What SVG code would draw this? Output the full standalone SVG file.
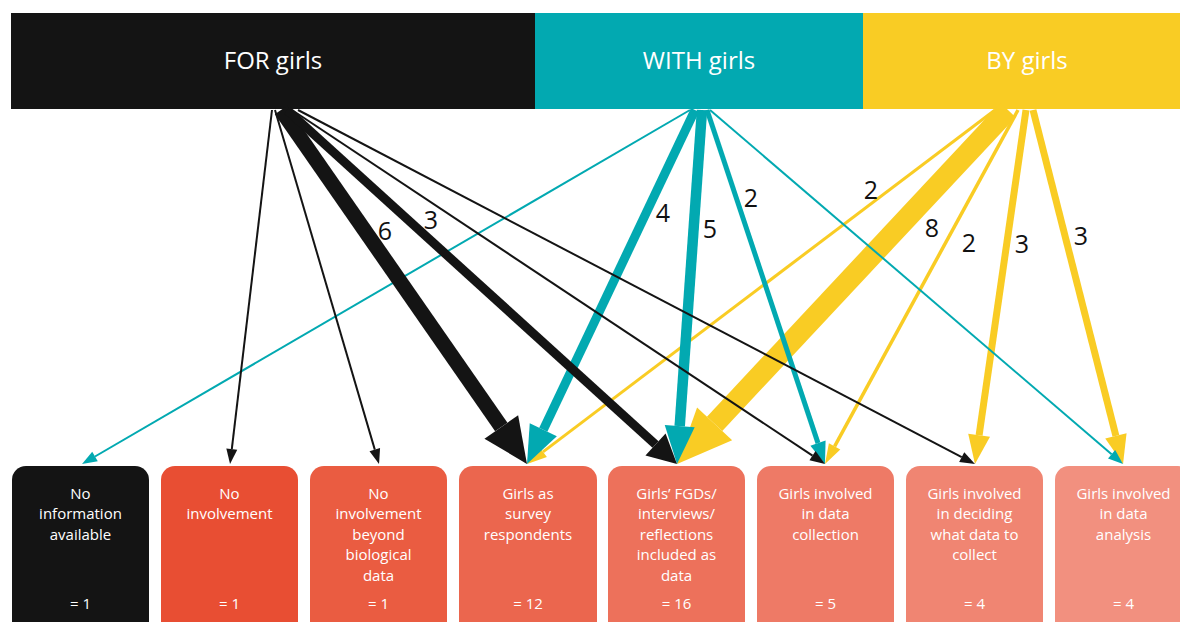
<svg xmlns="http://www.w3.org/2000/svg" width="1180" height="622" viewBox="0 0 1180 622">
<style>
.hd{font-family:"Open Sans","Liberation Sans",sans-serif;font-size:24px;fill:#fff;text-anchor:middle}
.bx{font-family:"Open Sans","Liberation Sans",sans-serif;font-size:15px;fill:#fff;text-anchor:middle}
.lb{font-family:"Open Sans","Liberation Sans",sans-serif;font-size:25px;fill:#111;text-anchor:middle}
.k{stroke:#141414;fill:none}
.t{stroke:#02A9B1;fill:none}
.y{stroke:#F9CC24;fill:none}
</style>
<defs>
<marker id="bkS" markerUnits="userSpaceOnUse" markerWidth="15" markerHeight="11" refX="0" refY="5.5" orient="auto" overflow="visible"><path d="M0,0 L15,5.5 L0,11 z" fill="#141414"/></marker>
<marker id="bkM" markerUnits="userSpaceOnUse" markerWidth="29" markerHeight="30" refX="0" refY="15" orient="auto" overflow="visible"><path d="M0,0 L29,15 L0,30 z" fill="#141414"/></marker>
<marker id="bkL" markerUnits="userSpaceOnUse" markerWidth="45" markerHeight="41" refX="0" refY="20.5" orient="auto" overflow="visible"><path d="M0,0 L45,20.5 L0,41 z" fill="#141414"/></marker>
<marker id="tlS" markerUnits="userSpaceOnUse" markerWidth="15" markerHeight="11" refX="0" refY="5.5" orient="auto" overflow="visible"><path d="M0,0 L15,5.5 L0,11 z" fill="#02A9B1"/></marker>
<marker id="tlM" markerUnits="userSpaceOnUse" markerWidth="22" markerHeight="16" refX="0" refY="8" orient="auto" overflow="visible"><path d="M0,0 L22,8 L0,16 z" fill="#02A9B1"/></marker>
<marker id="tlL" markerUnits="userSpaceOnUse" markerWidth="38" markerHeight="30" refX="0" refY="15" orient="auto" overflow="visible"><path d="M0,0 L38,15 L0,30 z" fill="#02A9B1"/></marker>
<marker id="ylS" markerUnits="userSpaceOnUse" markerWidth="20" markerHeight="13" refX="0" refY="6.5" orient="auto" overflow="visible"><path d="M0,0 L20,6.5 L0,13 z" fill="#F9CC24"/></marker>
<marker id="ylM" markerUnits="userSpaceOnUse" markerWidth="29" markerHeight="22" refX="0" refY="11" orient="auto" overflow="visible"><path d="M0,0 L29,11 L0,22 z" fill="#F9CC24"/></marker>
<marker id="ylL" markerUnits="userSpaceOnUse" markerWidth="55" markerHeight="48" refX="0" refY="24" orient="auto" overflow="visible"><path d="M0,0 L55,24 L0,48 z" fill="#F9CC24"/></marker>
</defs>
<rect width="1180" height="622" fill="#fff"/>

<g id="for-girls"><rect x="11" y="13" width="524" height="96" fill="#141414"/><text class="hd" x="273" y="69">FOR girls</text></g>
<g id="with-girls"><rect x="535" y="13" width="328" height="96" fill="#02A9B1"/><text class="hd" x="699" y="69">WITH girls</text></g>
<g id="by-girls"><rect x="863" y="13" width="317" height="96" fill="#F9CC24"/><text class="hd" x="1027" y="69">BY girls</text></g>

<g id="connectors">
<line class="y" x1="995" y1="110" x2="543.0" y2="451.9" stroke-width="3" marker-end="url(#ylS)"/>
<line class="y" x1="1008" y1="110" x2="714.6" y2="423.8" stroke-width="21" marker-end="url(#ylL)"/>
<line class="y" x1="1018" y1="110" x2="834.6" y2="446.4" stroke-width="3.5" marker-end="url(#ylS)"/>
<line class="y" x1="1026" y1="110" x2="979.1" y2="435.3" stroke-width="7" marker-end="url(#ylM)"/>
<line class="y" x1="1033" y1="110" x2="1115.9" y2="435.9" stroke-width="7" marker-end="url(#ylM)"/>
<line class="t" x1="690" y1="110" x2="95.0" y2="456.5" stroke-width="2" marker-end="url(#tlS)"/>
<line class="t" x1="695" y1="110" x2="543.3" y2="429.7" stroke-width="9" marker-end="url(#tlL)"/>
<line class="t" x1="702" y1="110" x2="679.7" y2="426.1" stroke-width="10.5" marker-end="url(#tlL)"/>
<line class="t" x1="707" y1="110" x2="818.0" y2="443.1" stroke-width="5" marker-end="url(#tlM)"/>
<line class="t" x1="710" y1="110" x2="1111.6" y2="454.2" stroke-width="2" marker-end="url(#tlS)"/>
<line class="k" x1="272" y1="110" x2="231.8" y2="449.1" stroke-width="2" marker-end="url(#bkS)"/>
<line class="k" x1="275" y1="110" x2="374.8" y2="449.6" stroke-width="2" marker-end="url(#bkS)"/>
<line class="k" x1="281" y1="110" x2="501.3" y2="427.0" stroke-width="15" marker-end="url(#bkL)"/>
<line class="k" x1="287" y1="110" x2="655.5" y2="444.5" stroke-width="9" marker-end="url(#bkM)"/>
<line class="k" x1="292" y1="110" x2="812.5" y2="455.7" stroke-width="2" marker-end="url(#bkS)"/>
<line class="k" x1="298" y1="110" x2="961.7" y2="457.1" stroke-width="2" marker-end="url(#bkS)"/>
<text class="lb" x="385" y="240">6</text>
<text class="lb" x="431" y="229">3</text>
<text class="lb" x="663" y="222">4</text>
<text class="lb" x="710" y="238">5</text>
<text class="lb" x="751" y="207">2</text>
<text class="lb" x="871" y="199">2</text>
<text class="lb" x="932" y="237">8</text>
<text class="lb" x="969" y="252">2</text>
<text class="lb" x="1022" y="253">3</text>
<text class="lb" x="1081" y="245">3</text>
</g>

<g id="box1"><rect x="12" y="466" width="137" height="170" rx="14" fill="#141414"/>
<text class="bx" x="80.5" y="498.5">No</text><text class="bx" x="80.5" y="519">information</text><text class="bx" x="80.5" y="539.5">available</text><text class="bx" x="80.5" y="608.5">= 1</text></g>
<g id="box2"><rect x="161" y="466" width="137" height="170" rx="14" fill="#E84E33"/>
<text class="bx" x="229.5" y="498.5">No</text><text class="bx" x="229.5" y="519">involvement</text><text class="bx" x="229.5" y="608.5">= 1</text></g>
<g id="box3"><rect x="310" y="466" width="137" height="170" rx="14" fill="#EA5C41"/>
<text class="bx" x="378.5" y="498.5">No</text><text class="bx" x="378.5" y="519">involvement</text><text class="bx" x="378.5" y="539.5">beyond</text><text class="bx" x="378.5" y="560">biological</text><text class="bx" x="378.5" y="580.5">data</text><text class="bx" x="378.5" y="608.5">= 1</text></g>
<g id="box4"><rect x="459" y="466" width="138" height="170" rx="14" fill="#EB664E"/>
<text class="bx" x="528" y="498.5">Girls as</text><text class="bx" x="528" y="519">survey</text><text class="bx" x="528" y="539.5">respondents</text><text class="bx" x="528" y="608.5">= 12</text></g>
<g id="box5"><rect x="608" y="466" width="137" height="170" rx="14" fill="#ED715B"/>
<text class="bx" x="676.5" y="498.5">Girls’ FGDs/</text><text class="bx" x="676.5" y="519">interviews/</text><text class="bx" x="676.5" y="539.5">reflections</text><text class="bx" x="676.5" y="560">included as</text><text class="bx" x="676.5" y="580.5">data</text><text class="bx" x="676.5" y="608.5">= 16</text></g>
<g id="box6"><rect x="757" y="466" width="137" height="170" rx="14" fill="#EE7A66"/>
<text class="bx" x="825.5" y="498.5">Girls involved</text><text class="bx" x="825.5" y="519">in data</text><text class="bx" x="825.5" y="539.5">collection</text><text class="bx" x="825.5" y="608.5">= 5</text></g>
<g id="box7"><rect x="906" y="466" width="137" height="170" rx="14" fill="#F08572"/>
<text class="bx" x="974.5" y="498.5">Girls involved</text><text class="bx" x="974.5" y="519">in deciding</text><text class="bx" x="974.5" y="539.5">what data to</text><text class="bx" x="974.5" y="560">collect</text><text class="bx" x="974.5" y="608.5">= 4</text></g>
<g id="box8"><rect x="1055" y="466" width="137" height="170" rx="14" fill="#F2907F"/>
<text class="bx" x="1123.5" y="498.5">Girls involved</text><text class="bx" x="1123.5" y="519">in data</text><text class="bx" x="1123.5" y="539.5">analysis</text><text class="bx" x="1123.5" y="608.5">= 4</text></g>
</svg>
